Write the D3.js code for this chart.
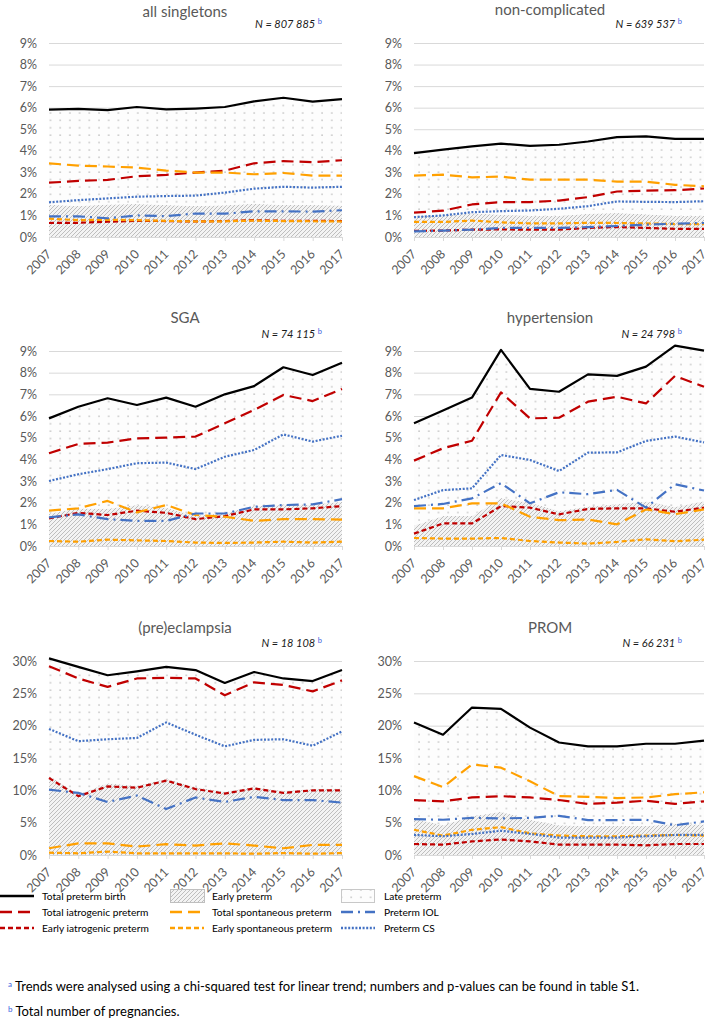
<!DOCTYPE html>
<html><head><meta charset="utf-8">
<script src="https://cdn.jsdelivr.net/npm/d3@7"></script>
<style>body{margin:0;background:#fff} svg{display:block;font-family:Lato, "Open Sans", sans-serif}</style>
</head><body><svg id="c" width="709" height="1026"></svg>
<script>
// ---------------- DATA ----------------
const years = [2007,2008,2009,2010,2011,2012,2013,2014,2015,2016,2017];
const ticksLow = [0,1,2,3,4,5,6,7,8,9];
const ticksHigh = [0,5,10,15,20,25,30];
const panelTitles = ["all singletons","non-complicated","SGA","hypertension","(pre)eclampsia","PROM"];
const panelN = ["807 885","639 537","74 115","24 798","18 108","66 231"];
const panelMax = [9,9,9,9,30,30];

// values in %, one inner array per panel (same order as panelTitles)
const totalPreterm = [
 [5.91,5.94,5.89,6.03,5.92,5.96,6.03,6.29,6.46,6.28,6.40],
 [3.89,4.05,4.20,4.33,4.23,4.28,4.43,4.63,4.67,4.55,4.55],
 [5.89,6.43,6.82,6.51,6.85,6.43,7.00,7.38,8.25,7.89,8.46],
 [5.66,6.25,6.85,9.05,7.25,7.12,7.92,7.85,8.28,9.25,9.02],
 [30.4,29.1,27.8,28.4,29.1,28.6,26.6,28.3,27.3,26.9,28.6],
 [20.5,18.6,22.8,22.6,19.7,17.4,16.8,16.8,17.2,17.2,17.7]];
const totalIatrogenic = [
 [2.52,2.60,2.65,2.82,2.88,2.99,3.08,3.42,3.52,3.47,3.56],
 [1.13,1.22,1.51,1.62,1.62,1.69,1.85,2.11,2.15,2.17,2.25],
 [4.28,4.71,4.77,4.97,5.00,5.05,5.66,6.28,6.97,6.69,7.25],
 [3.94,4.51,4.86,7.09,5.89,5.92,6.66,6.89,6.58,7.85,7.35],
 [29.2,27.3,26.0,27.3,27.4,27.3,24.7,26.7,26.3,25.3,27.0],
 [8.5,8.3,8.9,9.1,8.9,8.5,7.9,8.1,8.4,7.9,8.3]];
const earlyIatrogenic = [
 [0.65,0.66,0.71,0.75,0.74,0.72,0.74,0.78,0.75,0.75,0.74],
 [0.28,0.30,0.34,0.35,0.34,0.34,0.42,0.46,0.42,0.38,0.38],
 [1.27,1.53,1.43,1.63,1.53,1.24,1.38,1.69,1.69,1.74,1.84],
 [0.57,1.04,1.04,1.84,1.77,1.46,1.71,1.74,1.74,1.58,1.77],
 [11.9,9.1,10.6,10.4,11.5,10.2,9.5,10.3,9.6,10.0,10.0],
 [1.7,1.6,2.1,2.4,2.1,1.6,1.6,1.6,1.5,1.7,1.7]];
const totalSpontaneous = [
 [3.42,3.31,3.27,3.22,3.08,2.99,2.99,2.91,2.97,2.85,2.85],
 [2.85,2.89,2.77,2.80,2.66,2.66,2.66,2.57,2.57,2.42,2.35],
 [1.63,1.74,2.08,1.55,1.89,1.43,1.35,1.16,1.24,1.24,1.22],
 [1.74,1.74,1.97,1.97,1.35,1.19,1.22,1.00,1.69,1.47,1.69],
 [1.04,1.80,1.80,1.30,1.67,1.46,1.80,1.46,1.04,1.56,1.56],
 [12.2,10.5,14.0,13.5,11.4,9.1,9.0,8.8,8.9,9.4,9.7]];
const earlySpontaneous = [
 [0.85,0.78,0.80,0.78,0.75,0.72,0.73,0.76,0.74,0.73,0.72],
 [0.70,0.70,0.76,0.68,0.63,0.63,0.66,0.65,0.63,0.60,0.60],
 [0.23,0.20,0.29,0.26,0.23,0.16,0.14,0.16,0.20,0.16,0.20],
 [0.37,0.34,0.34,0.37,0.23,0.16,0.11,0.19,0.31,0.22,0.29],
 [0.36,0.26,0.52,0.26,0.26,0.26,0.26,0.20,0.30,0.20,0.30],
 [3.9,3.0,3.9,4.3,3.35,3.0,2.9,2.9,3.0,3.1,3.0]];
const pretermIOL = [
 [0.96,0.96,0.87,1.00,0.97,1.09,1.08,1.19,1.19,1.18,1.24],
 [0.26,0.30,0.34,0.42,0.42,0.42,0.46,0.51,0.57,0.62,0.65],
 [1.32,1.46,1.24,1.16,1.16,1.50,1.50,1.81,1.89,1.92,2.16],
 [1.84,1.94,2.20,2.90,1.97,2.48,2.39,2.59,1.77,2.85,2.56],
 [10.1,9.6,8.2,9.2,7.1,8.9,8.2,9.0,8.5,8.5,8.1],
 [5.55,5.45,5.75,5.65,5.75,6.06,5.40,5.40,5.45,4.60,5.20]];
const pretermCS = [
 [1.61,1.71,1.79,1.87,1.90,1.92,2.06,2.24,2.33,2.29,2.33],
 [0.92,1.00,1.15,1.20,1.23,1.31,1.43,1.65,1.63,1.62,1.66],
 [3.00,3.31,3.55,3.82,3.85,3.55,4.12,4.43,5.15,4.82,5.09],
 [2.12,2.58,2.66,4.20,3.97,3.46,4.31,4.32,4.85,5.05,4.78],
 [19.5,17.6,17.9,18.1,20.5,18.6,16.8,17.8,17.9,16.9,19.1],
 [3.1,2.9,3.25,3.75,3.25,2.7,2.7,2.7,2.9,3.1,3.1]];
const earlyPreterm = [
 [1.50,1.44,1.51,1.53,1.49,1.44,1.47,1.54,1.49,1.48,1.46],
 [0.98,1.00,1.10,1.03,0.97,0.97,1.08,1.11,1.05,0.98,0.98],
 [1.50,1.73,1.72,1.89,1.76,1.40,1.52,1.85,1.89,1.90,2.04],
 [0.94,1.38,1.38,2.21,2.00,1.62,1.82,1.93,2.05,1.80,2.06],
 [12.3,9.4,11.1,10.7,11.8,10.5,9.8,10.5,9.9,10.2,10.3],
 [5.6,4.6,6.0,6.7,5.45,4.6,4.5,4.5,4.5,4.8,4.7]];
const latePreterm = [
 [4.41,4.50,4.38,4.50,4.43,4.52,4.56,4.75,4.97,4.80,4.94],
 [2.91,3.05,3.10,3.30,3.26,3.31,3.35,3.52,3.62,3.57,3.57],
 [4.39,4.70,5.10,4.62,5.09,5.03,5.48,5.53,6.36,5.99,6.42],
 [4.72,4.87,5.47,6.84,5.25,5.50,6.10,5.92,6.23,7.45,6.96],
 [18.1,19.7,16.7,17.7,17.3,18.1,16.8,17.8,17.4,16.7,18.3],
 [14.9,14.0,16.8,15.9,14.25,12.8,12.3,12.3,12.7,12.4,13.0]];

const legendLines = ["Total preterm birth","Total iatrogenic preterm","Early iatrogenic preterm",
  "Total spontaneous preterm","Early spontaneous preterm","Preterm IOL","Preterm CS"];
const legendAreas = ["Early preterm","Late preterm"];
const footnoteA = "Trends were analysed using a chi-squared test for linear trend; numbers and p-values can be found in table S1.";
const footnoteB = "Total number of pregnancies.";

// ---------------- STYLE / LAYOUT ----------------
const RED = "#c00000", ORANGE = "#ffa000", BLUE = "#4472c4", GREY = "#595959";
const lineStyles = [
  {data: totalPreterm,     color: "#000", dash: null},
  {data: totalIatrogenic,  color: RED,    dash: "12,6"},
  {data: earlyIatrogenic,  color: RED,    dash: "5,3"},
  {data: totalSpontaneous, color: ORANGE, dash: "12,6"},
  {data: earlySpontaneous, color: ORANGE, dash: "5,3"},
  {data: pretermIOL,       color: BLUE,   dash: "12,5,2,5"},
  {data: pretermCS,        color: BLUE,   dash: "2,1.6"}];

const layout = [
  {x0:49, x1:342, yTop:43, yBot:237, tcx:185, ty:17, ny:28, nx:316},
  {x0:414,x1:704, yTop:43, yBot:237, tcx:550, ty:15, ny:28, nx:676},
  {x0:49, x1:342, yTop:351,yBot:546, tcx:185, ty:323,ny:338,nx:316},
  {x0:414,x1:704, yTop:351,yBot:546, tcx:550, ty:323,ny:338,nx:676},
  {x0:49, x1:342, yTop:661,yBot:855, tcx:185, ty:633,ny:647,nx:316},
  {x0:414,x1:704, yTop:661,yBot:855, tcx:550, ty:633,ny:647,nx:676}];

const svg = d3.select("#c");
svg.append("rect").attr("width",709).attr("height",1026).attr("fill","#fff");
const defs = svg.append("defs");
const hatch = defs.append("pattern").attr("id","hatch").attr("patternUnits","userSpaceOnUse")
  .attr("width",4).attr("height",4);
hatch.append("rect").attr("width",4).attr("height",4).attr("fill","#f3f3f3");
hatch.append("path").attr("d","M-1,1 l2,-2 M0,4 l4,-4 M3,5 l2,-2")
  .attr("stroke","#b8b8b8").attr("stroke-width",0.9);
const dots = defs.append("pattern").attr("id","dots").attr("patternUnits","userSpaceOnUse")
  .attr("width",9.7).attr("height",7.4);
dots.append("rect").attr("width",9.7).attr("height",7.4).attr("fill","#fdfdfd");
dots.append("circle").attr("cx",2).attr("cy",2).attr("r",0.75).attr("fill","#b4b4b4");

layout.forEach((L, p) => {
  const g = svg.append("g");
  const x = d3.scalePoint().domain(years).range([L.x0, L.x1]);
  const y = d3.scaleLinear().domain([0, panelMax[p]]).range([L.yBot, L.yTop]);
  const ticks = panelMax[p] === 9 ? ticksLow : ticksHigh;

  // gridlines + y labels
  const ya = d3.axisLeft(y).tickValues(ticks).tickFormat(d => d + "%")
    .tickSize(-(L.x1 - L.x0)).tickPadding(12);
  const yg = g.append("g").attr("transform", `translate(${L.x0},0)`).call(ya);
  yg.select(".domain").remove();
  yg.selectAll(".tick line").attr("stroke","#d9d9d9").attr("stroke-width",1);
  yg.selectAll(".tick text").attr("fill",GREY).attr("font-size",12.5).attr("font-family","Lato");

  // stacked areas
  const early = earlyPreterm[p], late = latePreterm[p];
  const aEarly = d3.area().x((d,i)=>x(years[i])).y0(y(0)).y1(d=>y(d));
  g.append("path").datum(early).attr("d", aEarly).attr("fill","url(#hatch)");
  const aLate = d3.area().x((d,i)=>x(years[i])).y0((d,i)=>y(early[i])).y1((d,i)=>y(early[i]+d));
  g.append("path").datum(late).attr("d", aLate).attr("fill","url(#dots)");

  // x axis
  const xa = d3.axisBottom(x).tickSize(4).tickPadding(4);
  const xg = g.append("g").attr("transform", `translate(0,${L.yBot})`).call(xa);
  xg.select(".domain").attr("stroke","#d9d9d9");
  xg.selectAll(".tick line").attr("stroke","#d9d9d9");
  xg.selectAll(".tick text").attr("fill",GREY).attr("font-size",12.5).attr("font-family","Lato")
    .attr("text-anchor","end").attr("dy","0.35em")
    .attr("transform","translate(-6,9) rotate(-45)");

  // lines
  lineStyles.forEach(s => {
    const ln = d3.line().x((d,i)=>x(years[i])).y(d=>y(d));
    g.append("path").datum(s.data[p]).attr("d", ln).attr("fill","none")
      .attr("stroke", s.color).attr("stroke-width", 2.2)
      .attr("stroke-dasharray", s.dash).attr("stroke-linejoin","round");
  });

  // title
  g.append("text").attr("x", L.tcx).attr("y", L.ty).attr("text-anchor","middle")
    .attr("font-size",15).attr("fill",GREY).text(panelTitles[p]);
  // N label
  const t = g.append("text").attr("x", L.nx + 6).attr("y", L.ny).attr("text-anchor","end")
    .attr("font-size",11).attr("font-style","italic").attr("fill","#1a1a1a");
  t.append("tspan").text("N = " + panelN[p] + " ");
  t.append("tspan").attr("font-size",7.5).attr("font-style","normal").attr("fill","#3b5fe0")
    .attr("dy",-4).text("b");
});

// ---------------- LEGEND ----------------
const lg = svg.append("g").attr("font-size",10.2).attr("fill","#000");
const rowY = [896, 912, 928];
const legendItems = [
  {col:0,row:0,style:lineStyles[0],label:legendLines[0]},
  {col:0,row:1,style:lineStyles[1],label:legendLines[1]},
  {col:0,row:2,style:lineStyles[2],label:legendLines[2]},
  {col:1,row:1,style:lineStyles[3],label:legendLines[3]},
  {col:1,row:2,style:lineStyles[4],label:legendLines[4]},
  {col:2,row:1,style:lineStyles[5],label:legendLines[5]},
  {col:2,row:2,style:lineStyles[6],label:legendLines[6]}];
const colX = [0, 170, 341], colT = [42, 212, 384];
legendItems.forEach(it => {
  lg.append("line").attr("x1", colX[it.col]).attr("x2", colX[it.col] + 34)
    .attr("y1", rowY[it.row]).attr("y2", rowY[it.row])
    .attr("stroke", it.style.color).attr("stroke-width", 2.4)
    .attr("stroke-dasharray", it.style.dash);
  lg.append("text").attr("x", colT[it.col]).attr("y", rowY[it.row]).attr("dy","0.35em").text(it.label);
});
lg.append("rect").attr("x",170.5).attr("y",889.5).attr("width",34).attr("height",13)
  .attr("fill","url(#hatch)").attr("stroke","#bfbfbf");
lg.append("text").attr("x",colT[1]).attr("y",rowY[0]).attr("dy","0.35em").text(legendAreas[0]);
lg.append("rect").attr("x",341.5).attr("y",889.5).attr("width",33).attr("height",13)
  .attr("fill","url(#dots)").attr("stroke","#c8c8c8");
lg.append("text").attr("x",colT[2]).attr("y",rowY[0]).attr("dy","0.35em").text(legendAreas[1]);

// ---------------- FOOTNOTES ----------------
const fa = svg.append("text").attr("x",8).attr("y",991).attr("font-size",13).attr("fill","#000");
fa.append("tspan").attr("font-size",8).attr("fill","#3b5fe0").attr("dy",-4).text("a");
fa.append("tspan").attr("dy",4).text(" " + footnoteA);
const fb = svg.append("text").attr("x",8).attr("y",1016).attr("font-size",13).attr("fill","#000");
fb.append("tspan").attr("font-size",8).attr("fill","#3b5fe0").attr("dy",-4).text("b");
fb.append("tspan").attr("dy",4).text(" " + footnoteB);
</script></body></html>
